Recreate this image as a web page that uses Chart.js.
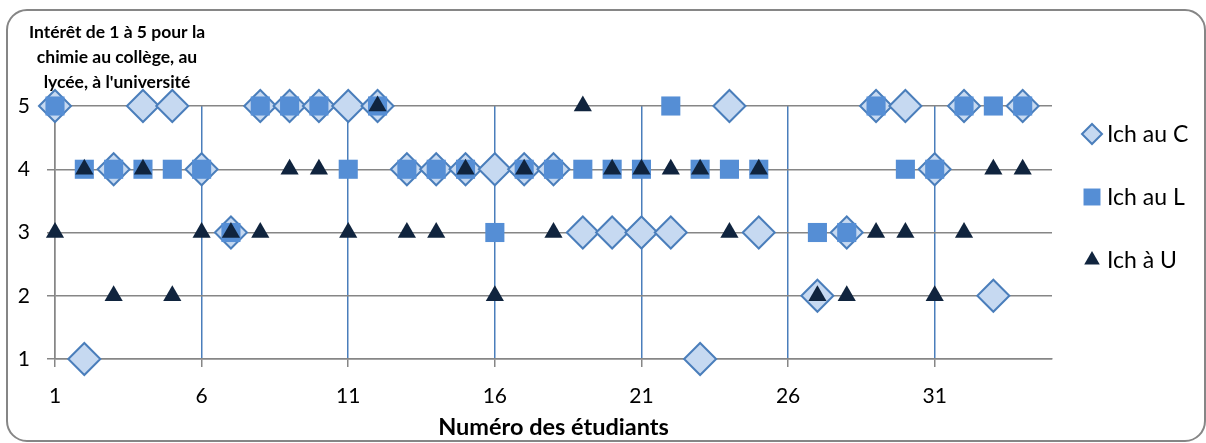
<!DOCTYPE html>
<html>
<head>
<meta charset="utf-8">
<script src="https://cdn.jsdelivr.net/npm/chart.js@4/dist/chart.umd.min.js"></script>
<style>
  html, body { margin: 0; padding: 0; background: #fff; }
  #wrap { position: relative; width: 1206px; height: 443px; }
</style>
</head>
<body>
<div id="wrap"><canvas id="myChart" width="1206" height="443"></canvas></div>
<script>
// student numbers (26 has no answer)
const students = [1, 2, 3, 4, 5, 6, 7, 8, 9, 10, 11, 12, 13, 14, 15, 16, 17,
  18, 19, 20, 21, 22, 23, 24, 25, 26, 27, 28, 29, 30, 31, 32, 33, 34];
const ichC = [5, 1, 4, 5, 5, 4, 3, 5, 5, 5, 5, 5, 4, 4, 4, 4, 4,
  4, 3, 3, 3, 3, 1, 5, 3, null, 2, 3, 5, 5, 4, 5, 2, 5];
const ichL = [5, 4, 4, 4, 4, 4, 3, 5, 5, 5, 4, 5, 4, 4, 4, 3, 4,
  4, 4, 4, 4, 5, 4, 4, 4, null, 3, 3, 5, 4, 4, 5, 5, 5];
const ichU = [3, 4, 2, 4, 2, 3, 3, 3, 4, 4, 3, 5, 3, 3, 4, 2, 4,
  3, 5, 4, 4, 4, 4, 3, 4, null, 2, 2, 3, 3, 2, 3, 4, 4];
const seriesNames = ["Ich au C", "Ich au L", "Ich à U"];
const xTicks = [1, 6, 11, 16, 21, 26, 31];
const yTicks = [1, 2, 3, 4, 5];
const titleLines = ["Intérêt de 1 à 5 pour la", "chimie au collège, au", "lycée, à l'université"];
const xTitle = "Numéro des étudiants";

function toPoints(vals) {
  const pts = [];
  vals.forEach((v, i) => {
    if (v !== null) pts.push({ x: students[i], y: v });
  });
  return pts;
}

const FONT = "Lato, 'Open Sans', sans-serif";

// frame, title block and legend
const framePlugin = {
  id: "frame",
  beforeDraw(chart) {
    const ctx = chart.ctx;
    ctx.save();
    ctx.fillStyle = "#fff";
    ctx.fillRect(0, 0, chart.width, chart.height);
    ctx.strokeStyle = "#868686";
    ctx.lineWidth = 2;
    ctx.beginPath();
    ctx.roundRect(7, 10, 1198, 431, 20);
    ctx.stroke();
    ctx.restore();
  },
  afterDraw(chart) {
    const ctx = chart.ctx;
    ctx.save();
    ctx.fillStyle = "#000";
    ctx.font = "bold 17.5px " + FONT;
    ctx.textAlign = "center";
    ctx.textBaseline = "alphabetic";
    titleLines.forEach((t, i) => ctx.fillText(t, 117, 37.5 + i * 25.3));

    const ys = [134, 197, 260];
    const sizes = [10, 12, 9];
    chart.data.datasets.forEach((ds, i) => {
      ctx.fillStyle = ds.backgroundColor;
      ctx.strokeStyle = ds.borderColor;
      Chart.helpers.drawPoint(ctx, {
        pointStyle: ds.pointStyle, rotation: 0,
        radius: sizes[i], borderWidth: ds.borderWidth
      }, 1092, ys[i]);
      ctx.fillStyle = "#000";
      ctx.font = "23px " + FONT;
      ctx.textAlign = "left";
      ctx.textBaseline = "middle";
      ctx.fillText(ds.label, 1107, ys[i] + 1);
    });
    ctx.restore();
  }
};

const data = {
  datasets: [
    {
      label: seriesNames[0],
      data: toPoints(ichC),
      pointStyle: "rectRot",
      pointRadius: 16,
      pointHoverRadius: 16,
      backgroundColor: "#c6d9f1",
      borderColor: "#4a7ebb",
      borderWidth: 2,
      order: 3,
      clip: false
    },
    {
      label: seriesNames[1],
      data: toPoints(ichL),
      pointStyle: "rect",
      pointRadius: 13.5,
      pointHoverRadius: 13.5,
      backgroundColor: "#558ed5",
      borderColor: "#558ed5",
      borderWidth: 0,
      order: 2,
      clip: false
    },
    {
      label: seriesNames[2],
      data: toPoints(ichU),
      pointStyle: "triangle",
      pointRadius: 10.5,
      pointHoverRadius: 10.5,
      backgroundColor: "#10243e",
      borderColor: "#10243e",
      borderWidth: 0,
      order: 1,
      clip: false
    }
  ]
};

const config = {
  type: "scatter",
  data,
  plugins: [framePlugin],
  options: {
    responsive: false,
    animation: false,
    layout: { padding: { top: 106, right: 154, left: 0, bottom: 0 } },
    plugins: {
      legend: { display: false },
      tooltip: { enabled: false }
    },
    scales: {
      x: {
        type: "linear",
        min: 1,
        max: 35,
        afterBuildTicks: (scale) => {
          scale.ticks = xTicks.map(v => ({ value: v }));
        },
        afterFit: (scale) => { scale.height = 84; },
        grid: {
          color: (c) => (c.tick && c.tick.value === 1 ? "#868686" : "#4a7ebb"),
          tickColor: "#868686",
          lineWidth: 1.5,
          tickLength: 8
        },
        border: { color: "#868686", width: 1.5 },
        ticks: {
          color: "#000",
          font: { family: FONT, size: 21 },
          padding: 17,
          maxRotation: 0
        },
        title: {
          display: true,
          text: xTitle,
          color: "#000",
          font: { family: FONT, size: 23.5, weight: "bold" },
          padding: { top: 0, bottom: 1 }
        }
      },
      y: {
        type: "linear",
        min: 1,
        max: 5,
        afterBuildTicks: (scale) => {
          scale.ticks = yTicks.map(v => ({ value: v }));
        },
        afterFit: (scale) => { scale.width = 55; },
        grid: {
          color: "#868686",
          tickColor: "#868686",
          lineWidth: 1.5,
          tickLength: 8
        },
        border: { color: "#868686", width: 1.5 },
        ticks: {
          color: "#000",
          font: { family: FONT, size: 21 },
          padding: 17
        }
      }
    }
  }
};

const myChart = new Chart(document.getElementById("myChart"), config);
</script>
</body>
</html>
